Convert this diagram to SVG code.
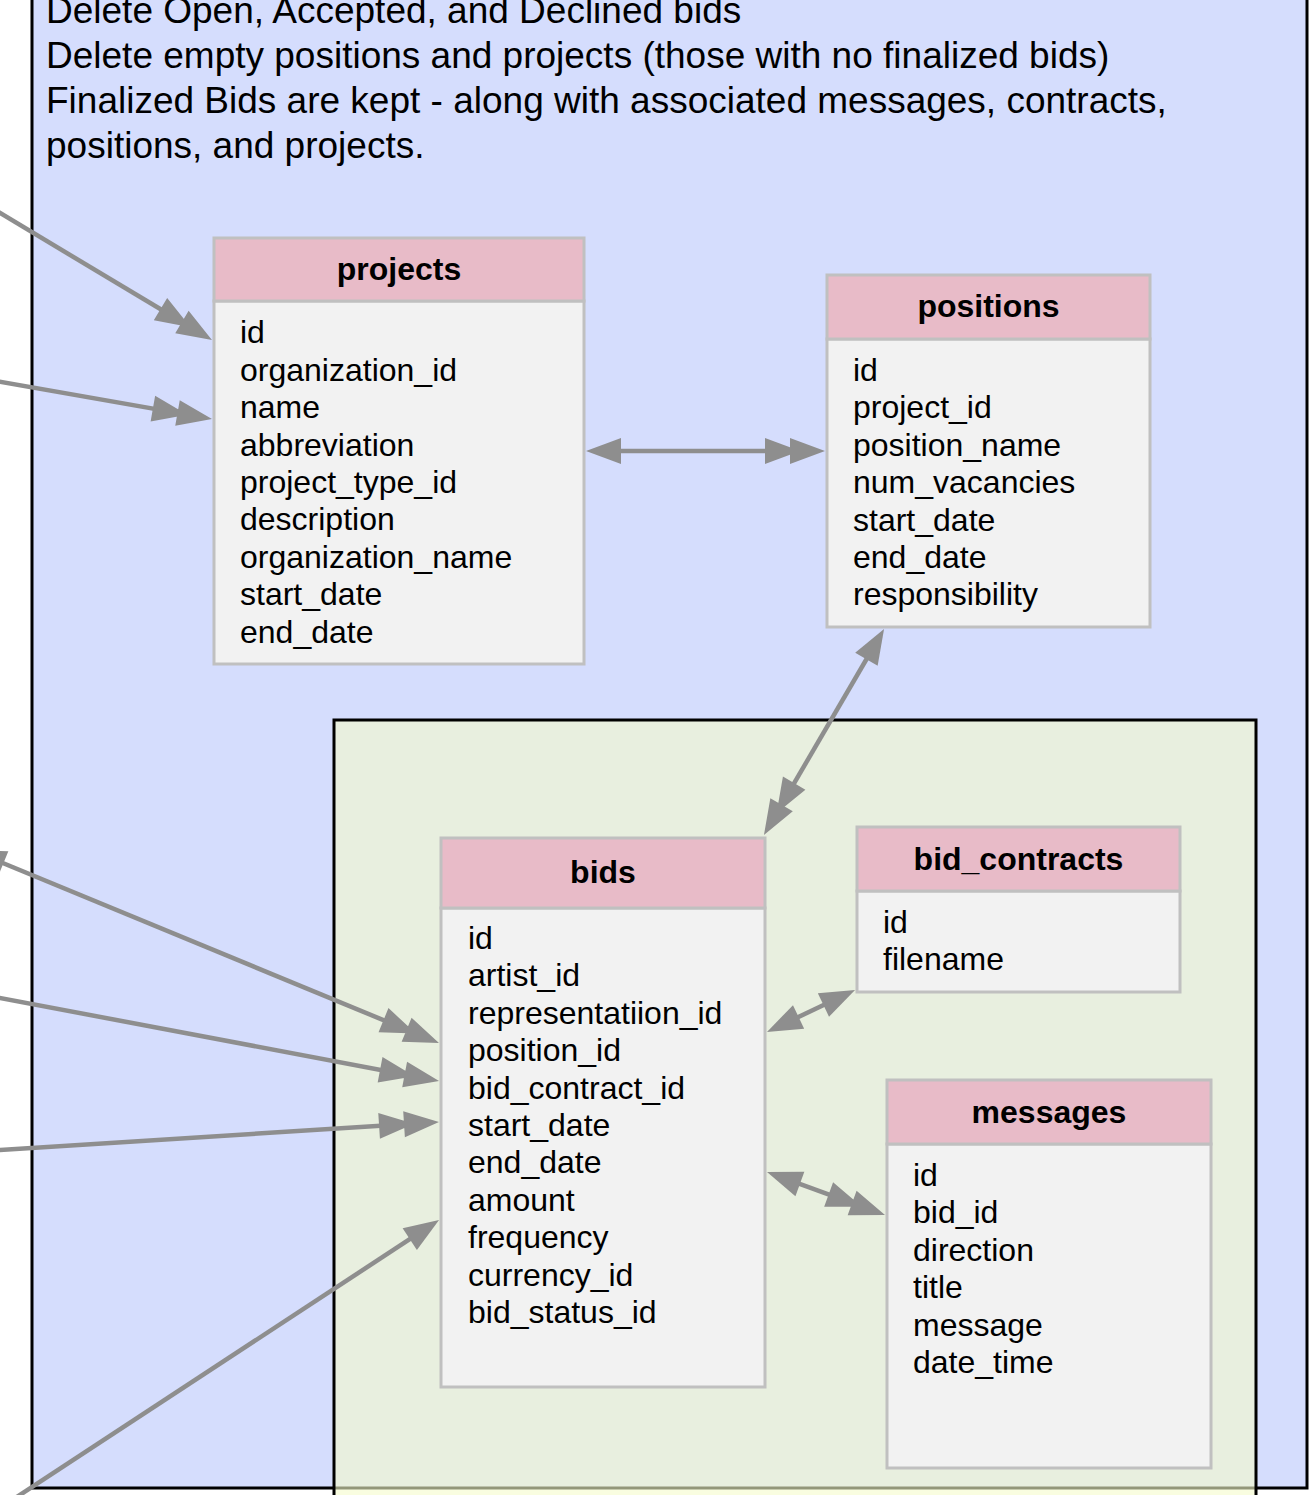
<svg xmlns="http://www.w3.org/2000/svg" width="1316" height="1495" viewBox="0 0 1316 1495">
<style>
  .note { font-family: "Liberation Sans", Arial, Helvetica, sans-serif; font-size: 37px; fill: #000; }
  .hdr { fill: #e8bbc8; stroke: #c0c0c0; stroke-width: 3; }
  .body { fill: #f2f2f2; stroke: #c0c0c0; stroke-width: 3; }
  .title { font-family: "Liberation Sans", Arial, Helvetica, sans-serif; font-size: 32px; font-weight: bold; fill: #000; text-anchor: middle; }
  .field { font-family: "Liberation Sans", Arial, Helvetica, sans-serif; font-size: 32px; fill: #000; }
  .conn { fill: none; stroke: #8e8e8e; stroke-width: 4.5; }
</style>
<defs>
  <marker id="one" markerUnits="userSpaceOnUse" viewBox="0 0 35 26" refX="20" refY="13" markerWidth="35" markerHeight="26" orient="auto-start-reverse" overflow="visible">
    <path d="M0,0 L35,13 L0,26 Z" fill="#8e8e8e"/>
  </marker>
  <marker id="many" markerUnits="userSpaceOnUse" viewBox="0 0 60 26" refX="45" refY="13" markerWidth="60" markerHeight="26" orient="auto-start-reverse" overflow="visible">
    <path d="M0,0 L35,13 L0,26 Z M25,0 L60,13 L25,26 Z" fill="#8e8e8e"/>
  </marker>
</defs>

<rect width="1316" height="1495" fill="#ffffff"/>

<g id="container-outer">
  <rect x="32" y="-60" width="1275" height="1548" fill="#d5ddfd" stroke="#000" stroke-width="3"/>
  <text class="note" x="46" y="23">Delete Open, Accepted, and Declined bids</text>
  <text class="note" x="46" y="68">Delete empty positions and projects (those with no finalized bids)</text>
  <text class="note" x="46" y="113">Finalized Bids are kept - along with associated messages, contracts,</text>
  <text class="note" x="46" y="158">positions, and projects.</text>
</g>

<g id="container-inner">
  <rect x="334" y="720" width="922" height="900" fill="#f5fbcb" fill-opacity="0.6" stroke="#000" stroke-width="3"/>
</g>

<g id="connectors">
  <path class="conn" d="M-20,201 L199.1,332.3" marker-end="url(#many)"/>
  <path class="conn" d="M-20,378.2 L197.2,416.4" marker-end="url(#many)"/>
  <path class="conn" d="M601,451 L810,451" marker-start="url(#one)" marker-end="url(#many)"/>
  <path class="conn" d="M876.5,642 L771.5,822" marker-start="url(#one)" marker-end="url(#many)"/>
  <path class="conn" d="M-15.1,855.7 L425.1,1037.3" marker-start="url(#one)" marker-end="url(#many)"/>
  <path class="conn" d="M-20,994.2 L424.3,1078.2" marker-end="url(#many)"/>
  <path class="conn" d="M-20,1151.3 L424,1123" marker-end="url(#many)"/>
  <path class="conn" d="M0,1508 L426.5,1228.2" marker-end="url(#one)"/>
  <path class="conn" d="M841.5,996.5 L780.5,1025.5" marker-start="url(#one)" marker-end="url(#one)"/>
  <path class="conn" d="M781.1,1177.1 L870.9,1209.9" marker-start="url(#one)" marker-end="url(#many)"/>
</g>

<g id="projects">
  <rect class="body" x="214" y="301" width="370" height="363"/>
  <rect class="hdr" x="214" y="238" width="370" height="63"/>
  <text class="title" x="399" y="280">projects</text>
  <text class="field" x="240" y="343.3">id</text>
  <text class="field" x="240" y="380.7">organization_id</text>
  <text class="field" x="240" y="418.1">name</text>
  <text class="field" x="240" y="455.5">abbreviation</text>
  <text class="field" x="240" y="492.9">project_type_id</text>
  <text class="field" x="240" y="530.3">description</text>
  <text class="field" x="240" y="567.7">organization_name</text>
  <text class="field" x="240" y="605.1">start_date</text>
  <text class="field" x="240" y="642.5">end_date</text>
</g>

<g id="positions">
  <rect class="body" x="827" y="339" width="323" height="288"/>
  <rect class="hdr" x="827" y="275" width="323" height="64"/>
  <text class="title" x="988.5" y="317">positions</text>
  <text class="field" x="853" y="381">id</text>
  <text class="field" x="853" y="418.4">project_id</text>
  <text class="field" x="853" y="455.8">position_name</text>
  <text class="field" x="853" y="493.2">num_vacancies</text>
  <text class="field" x="853" y="530.6">start_date</text>
  <text class="field" x="853" y="568">end_date</text>
  <text class="field" x="853" y="605.4">responsibility</text>
</g>

<g id="bids">
  <rect class="body" x="441" y="908" width="324" height="479"/>
  <rect class="hdr" x="441" y="838" width="324" height="70"/>
  <text class="title" x="603" y="883">bids</text>
  <text class="field" x="468" y="949">id</text>
  <text class="field" x="468" y="986.4">artist_id</text>
  <text class="field" x="468" y="1023.8">representatiion_id</text>
  <text class="field" x="468" y="1061.2">position_id</text>
  <text class="field" x="468" y="1098.6">bid_contract_id</text>
  <text class="field" x="468" y="1136">start_date</text>
  <text class="field" x="468" y="1173.4">end_date</text>
  <text class="field" x="468" y="1210.8">amount</text>
  <text class="field" x="468" y="1248.2">frequency</text>
  <text class="field" x="468" y="1285.6">currency_id</text>
  <text class="field" x="468" y="1323">bid_status_id</text>
</g>

<g id="bid_contracts">
  <rect class="body" x="857" y="891" width="323" height="101"/>
  <rect class="hdr" x="857" y="827" width="323" height="64"/>
  <text class="title" x="1018.5" y="870">bid_contracts</text>
  <text class="field" x="883" y="933">id</text>
  <text class="field" x="883" y="970.4">filename</text>
</g>

<g id="messages">
  <rect class="body" x="887" y="1144" width="324" height="324"/>
  <rect class="hdr" x="887" y="1080" width="324" height="64"/>
  <text class="title" x="1049" y="1123">messages</text>
  <text class="field" x="913" y="1186">id</text>
  <text class="field" x="913" y="1223.4">bid_id</text>
  <text class="field" x="913" y="1260.8">direction</text>
  <text class="field" x="913" y="1298.2">title</text>
  <text class="field" x="913" y="1335.6">message</text>
  <text class="field" x="913" y="1373">date_time</text>
</g>
</svg>
